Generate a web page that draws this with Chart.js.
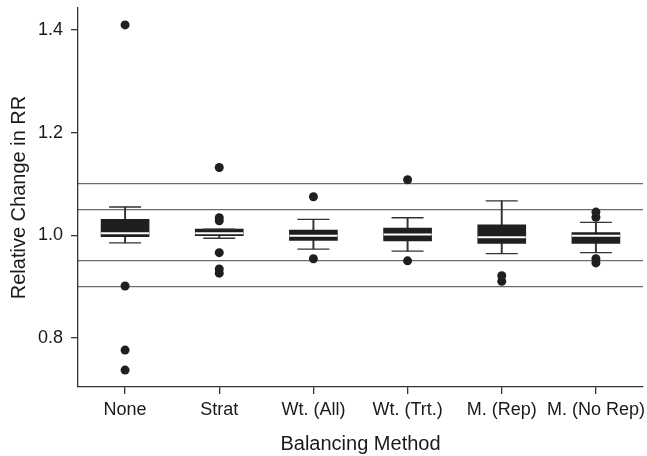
<!DOCTYPE html>
<html>
<head>
<meta charset="utf-8">
<script src="https://cdn.jsdelivr.net/npm/chart.js@4/dist/chart.umd.min.js"></script>
<style>
  html, body { margin: 0; padding: 0; background: #fff; }
  canvas { display: block; }
</style>
</head>
<body>
<canvas id="c" width="647" height="456"></canvas>
<script>
// ---- data ----
const categories = ['None', 'Strat', 'Wt. (All)', 'Wt. (Trt.)', 'M. (Rep)', 'M. (No Rep)'];
const whiskerLow  = [0.985, 0.994, 0.973, 0.969, 0.964, 0.966];
const q1          = [0.997, 0.999, 0.990, 0.989, 0.984, 0.984];
const median      = [1.004, 1.004, 0.999, 1.0015, 0.996, 0.999];
const q3          = [1.031, 1.012, 1.010, 1.014, 1.020, 1.005];
const whiskerHigh = [1.055, 1.012, 1.031, 1.034, 1.067, 1.025];
const outlierCat  = ['None', 'None', 'None', 'None',
                     'Strat', 'Strat', 'Strat', 'Strat', 'Strat', 'Strat',
                     'Wt. (All)', 'Wt. (All)',
                     'Wt. (Trt.)', 'Wt. (Trt.)',
                     'M. (Rep)', 'M. (Rep)',
                     'M. (No Rep)', 'M. (No Rep)', 'M. (No Rep)', 'M. (No Rep)'];
const outlierVal  = [1.41, 0.901, 0.776, 0.737,
                     1.132, 1.034, 1.028, 0.966, 0.934, 0.926,
                     1.075, 0.954,
                     1.108, 0.950,
                     0.921, 0.910,
                     1.045, 1.035, 0.954, 0.946];
const yTicks   = [0.8, 1.0, 1.2, 1.4];
const refLines = [0.9, 0.95, 1.05, 1.1];
const yMin = 0.704, yMax = 1.443;

// ---- chart ----
const dark = '#1f1f1f';
const axisColor = '#333333';
const font = 'Liberation Sans, Arial, Helvetica, sans-serif';

function noPad(s) {
  s.paddingTop = 0; s.paddingBottom = 0; s.paddingLeft = 0; s.paddingRight = 0;
}

const ctx = document.getElementById('c').getContext('2d');
new Chart(ctx, {
  data: {
    labels: categories,
    datasets: [
      { // whisker stems
        type: 'bar',
        data: categories.map((c, i) => [whiskerLow[i], whiskerHigh[i]]),
        backgroundColor: '#333333',
        barThickness: 1.3,
        grouped: false,
        order: 5
      },
      { // boxes
        type: 'bar',
        data: categories.map((c, i) => [q1[i], q3[i]]),
        backgroundColor: dark,
        barThickness: 48,
        grouped: false,
        borderWidth: 0,
        order: 4
      },
      { // medians
        type: 'line',
        data: median,
        showLine: false,
        pointStyle: 'line',
        pointRadius: 24,
        pointHoverRadius: 24,
        borderColor: '#ffffff',
        pointBorderColor: '#ffffff',
        pointBorderWidth: 2,
        order: 3
      },
      { // upper caps
        type: 'line',
        data: whiskerHigh,
        showLine: false,
        pointStyle: 'line',
        pointRadius: 16,
        pointHoverRadius: 16,
        pointBorderColor: '#333333',
        pointBorderWidth: 1.3,
        order: 2
      },
      { // lower caps
        type: 'line',
        data: whiskerLow,
        showLine: false,
        pointStyle: 'line',
        pointRadius: 16,
        pointHoverRadius: 16,
        pointBorderColor: '#333333',
        pointBorderWidth: 1.3,
        order: 2
      },
      { // outliers
        type: 'line',
        data: outlierCat.map((c, i) => ({ x: c, y: outlierVal[i] })),
        showLine: false,
        pointStyle: 'circle',
        pointRadius: 4.5,
        pointHoverRadius: 4.5,
        pointBackgroundColor: dark,
        pointBorderColor: dark,
        pointBorderWidth: 0,
        order: 1
      }
    ]
  },
  options: {
    responsive: false,
    animation: false,
    events: [],
    layout: { autoPadding: false, padding: { top: 8, right: 4, left: 0, bottom: 0 } },
    plugins: { legend: { display: false }, tooltip: { enabled: false } },
    scales: {
      x: {
        type: 'category',
        offset: true,
        grid: { offset: false, drawOnChartArea: false, tickLength: 7, color: axisColor, lineWidth: 1.3 },
        border: { color: axisColor, width: 1.3 },
        ticks: { color: '#1a1a1a', font: { family: font, size: 18 }, padding: 5, maxRotation: 0, autoSkip: false },
        title: { display: true, text: 'Balancing Method', color: '#1a1a1a', font: { family: font, size: 20 }, padding: { top: 4, bottom: 0 } },
        afterFit: s => { s.height = 69; noPad(s); }
      },
      y: {
        type: 'linear',
        position: 'left',
        min: yMin, max: yMax,
        afterBuildTicks: s => { s.ticks = yTicks.map(v => ({ value: v })); },
        grid: { drawOnChartArea: false, tickLength: 7, color: axisColor, lineWidth: 1.3 },
        border: { color: axisColor, width: 1.3 },
        ticks: { color: '#1a1a1a', font: { family: font, size: 18 }, padding: 8, callback: v => Number(v).toFixed(1) },
        title: { display: true, text: 'Relative Change in RR', color: '#1a1a1a', font: { family: font, size: 20 }, padding: { top: 7, bottom: 4 } },
        afterFit: s => { s.width = 78; noPad(s); }
      },
      yRef: {
        type: 'linear',
        position: 'right',
        min: yMin, max: yMax,
        afterBuildTicks: s => { s.ticks = refLines.map(v => ({ value: v })); },
        grid: { drawTicks: false, color: '#6b6b6b', lineWidth: 1.3 },
        border: { display: false },
        ticks: { display: false },
        afterFit: s => { s.width = 0; noPad(s); }
      }
    }
  }
});
</script>
</body>
</html>
